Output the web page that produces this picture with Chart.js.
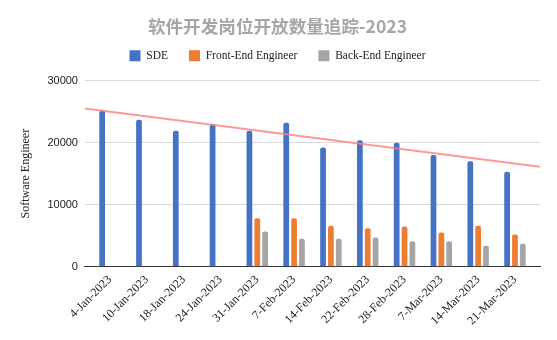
<!DOCTYPE html>
<html>
<head>
<meta charset="utf-8">
<script src="https://cdn.jsdelivr.net/npm/chart.js@4"></script>
<style>
  html, body { margin: 0; padding: 0; background: #fff; }
  canvas { display: block; }
</style>
</head>
<body>
<canvas id="myChart" width="557" height="340"></canvas>
<script>
// values
const dates = ["4-Jan-2023", "10-Jan-2023", "18-Jan-2023", "24-Jan-2023", "31-Jan-2023", "7-Feb-2023",
    "14-Feb-2023", "22-Feb-2023", "28-Feb-2023", "7-Mar-2023", "14-Mar-2023", "21-Mar-2023"]
const sde = [25200, 23700, 21900, 23000, 21900, 23200, 19200, 20400, 20000, 18000, 17000, 15300]
const frontEnd = [null, null, null, null, 7800, 7800, 6600, 6200, 6500, 5500, 6600, 5200]
const backEnd = [null, null, null, null, 5700, 4500, 4500, 4700, 4100, 4100, 3400, 3700]
// trendline ends, at the left and right edge of the plot
const trendEnds = [25500, 16100]
const yTicks = [0, 10000, 20000, 30000]

const serif = "'Liberation Serif', 'Times New Roman', serif"
const sans = "'Liberation Sans', Arial, sans-serif"

// one shared numeric x axis (category i sits at x = i), so the trendline can run edge to edge
const xMin = -0.68
const xMax = dates.length - 1 + 0.68
const points = (arr) => arr.map((v, i) => ({ x: i, y: v }))

const bar = (label, data, color) => ({
    type: "bar", label, data: points(data),
    backgroundColor: color, borderColor: color,
    borderRadius: { topLeft: 2, topRight: 2 }, borderSkipped: "bottom",
    barPercentage: 0.73, categoryPercentage: 0.64,
    order: 2
})

// push the plot down a bit below the legend
const legendGap = {
    id: "legendGap",
    beforeInit(chart) {
        const fit = chart.legend.fit
        chart.legend.fit = function () {
            fit.bind(chart.legend)()
            this.height += 9
        }
    }
}

new Chart(document.getElementById("myChart"), {
    type: "bar",
    data: {
        datasets: [
            bar("SDE", sde, "#4472C4"),
            bar("Front-End Engineer", frontEnd, "#ED7D31"),
            bar("Back-End Engineer", backEnd, "#A5A5A5"),
            {
                type: "line", label: "trend",
                data: [{ x: xMin, y: trendEnds[0] }, { x: xMax, y: trendEnds[1] }],
                borderColor: "rgba(255,128,128,0.8)", borderWidth: 2,
                pointRadius: 0, fill: false, order: 1
            }
        ]
    },
    plugins: [legendGap],
    options: {
        responsive: false,
        animation: false,
        layout: { padding: { left: 15, right: 17, top: 4, bottom: 6 } },
        plugins: {
            title: {
                display: true,
                text: "软件开发岗位开放数量追踪-2023",
                color: "#a6a6a6",
                font: { family: "'Noto Sans CJK SC', sans-serif", size: 17.6, weight: "bold" },
                padding: { top: 12, bottom: -8 }
            },
            legend: {
                labels: {
                    filter: (item) => item.text !== "trend",
                    boxWidth: 11, boxHeight: 11, padding: 21,
                    color: "#222",
                    font: { family: serif, size: 11.5 }
                }
            },
            tooltip: { enabled: false }
        },
        scales: {
            x: {
                type: "linear", offset: false,
                min: xMin, max: xMax,
                afterBuildTicks: (axis) => { axis.ticks = dates.map((d, i) => ({ value: i })) },
                grid: { display: false, drawTicks: false },
                border: { color: "#333", width: 1 },
                ticks: {
                    color: "#222", maxRotation: 45, minRotation: 45, padding: 6, autoSkip: false,
                    font: { family: serif, size: 12 },
                    callback: (v) => dates[v]
                }
            },
            y: {
                min: 0, max: 30000,
                afterBuildTicks: (axis) => { axis.ticks = yTicks.map(v => ({ value: v })) },
                ticks: { color: "#222", padding: 7, font: { family: sans, size: 11 }, callback: (v) => String(v) },
                grid: { color: "#d9d9d9", drawTicks: false },
                border: { display: false },
                title: {
                    display: true, text: "Software Engineer", color: "#222",
                    font: { family: serif, size: 12 }, padding: { top: 4, bottom: 7 }
                }
            }
        }
    }
})
</script>
</body>
</html>
